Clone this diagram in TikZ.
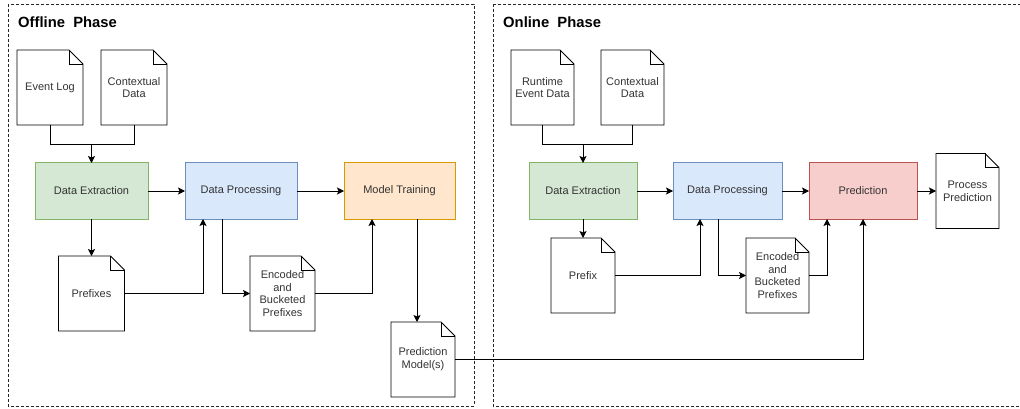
\documentclass[tikz,border=0pt]{standalone}
\usepackage{fontspec}
\setmainfont{Liberation Sans}
\usetikzlibrary{arrows.meta}
\definecolor{txt}{HTML}{333333}
\definecolor{gfill}{HTML}{D5E8D4}\definecolor{gline}{HTML}{82B366}
\definecolor{bfill}{HTML}{DAE8FC}\definecolor{bline}{HTML}{6C8EBF}
\definecolor{ofill}{HTML}{FFE6CC}\definecolor{oline}{HTML}{D79B00}
\definecolor{rfill}{HTML}{F8CECC}\definecolor{rline}{HTML}{B85450}
\tikzset{
  lbl/.style={font=\fontsize{11}{12.7}\selectfont, text=txt, align=center},
  procbox/.style={lbl, rectangle, draw, line width=1pt, inner sep=0pt, outer sep=0pt, minimum height=56pt},
  docnode/.style={lbl, rectangle, inner sep=0pt, outer sep=0pt, minimum width=64pt, minimum height=75pt},
  docline/.style={draw=black, line width=0.9pt, line join=miter},
  conn/.style={draw=black, line width=0.9pt},
  arr/.style={conn, -{Stealth[length=7pt,width=7pt,inset=1.5pt]}},
  frame/.style={draw=black!85, line width=0.8pt, dash pattern=on 3pt off 2pt},
  phasetitle/.style={font=\fontsize{14.8}{16}\selectfont\bfseries, text=black, anchor=west, inner sep=0pt}
}
\newcommand{\docshape}[1]{%
  \draw[docline] (#1.north west) -- ([xshift=-14pt]#1.north east) -- ([yshift=-14pt]#1.north east) -- (#1.south east) -- (#1.south west) -- cycle;
  \draw[docline] ([xshift=-14pt]#1.north east) |- ([yshift=-14pt]#1.north east);}
\begin{document}
\begin{tikzpicture}[x=1pt,y=-1pt]
\useasboundingbox (0,0) rectangle (1020,409);
% frames
\draw[frame] (8,4) rectangle (474,406);
\draw[frame] (493,4) rectangle (1030,406);
\node[phasetitle] (t1) at (18,22) {Offline\ \ Phase};
\node[phasetitle] (t2) at (503,22) {Online\ \ Phase};

% ---------- Offline ----------
\node[docnode, minimum width=66pt] (el) at (50,87.5) {Event Log}; \docshape{el}
\node[docnode, minimum width=66pt] (cd) at (134,87.5) {Contextual\\Data}; \docshape{cd}
\node[procbox, fill=gfill, draw=gline, minimum width=113pt] (de) at (91.5,191) {Data Extraction};
\node[procbox, fill=bfill, draw=bline, minimum width=112pt] (dp) at (241,191) {Data Processing};
\node[procbox, fill=ofill, draw=oline, minimum width=111pt] (mt) at (399.5,191) {Model Training};
\node[docnode, minimum width=66pt] (pre) at (91.5,293.5) {Prefixes}; \docshape{pre}
\node[docnode, minimum width=65pt] (enc) at (282.5,293.5) {Encoded\\and\\Bucketed\\Prefixes}; \docshape{enc}
\node[docnode, minimum width=64pt] (pm) at (423,359.5) {Prediction\\Model(s)}; \docshape{pm}

\coordinate (j1) at (91.5,144);
\draw[arr] (el.south) |- (j1) -- (de.north);
\draw[conn] (cd.south) |- (j1);
\draw[arr] (de.east) -- (dp.west);
\draw[arr] (dp.east) -- (mt.west);
\draw[arr] (de.south) -- (pre.north);
\draw[arr] (pre.east) -| ([xshift=18pt]dp.south west);
\draw[arr] ([xshift=37pt]dp.south west) |- (enc.west);
\draw[arr] (enc.east) -| ([xshift=28pt]mt.south west);
\coordinate (mtout) at ([xshift=73pt]mt.south west);
\draw[arr] (mtout) -- (mtout |- pm.north);

% ---------- Online ----------
\node[docnode, minimum width=63pt] (rt) at (542.5,87.5) {Runtime\\Event Data}; \docshape{rt}
\node[docnode, minimum width=63pt] (cd2) at (632.5,87.5) {Contextual\\Data}; \docshape{cd2}
\node[procbox, fill=gfill, draw=gline, minimum width=108pt] (de2) at (583,191) {Data Extraction};
\node[procbox, fill=bfill, draw=bline, minimum width=109pt] (dp2) at (727.5,191) {Data Processing};
\node[procbox, fill=rfill, draw=rline, minimum width=108pt] (pr) at (863,191) {Prediction};
\node[docnode, minimum width=63pt] (pp) at (967.5,191) {Process\\Prediction}; \docshape{pp}
\node[docnode, minimum width=64pt] (pfx) at (583,275.5) {Prefix}; \docshape{pfx}
\node[docnode, minimum width=63pt] (enc2) at (777.5,275.5) {Encoded\\and\\Bucketed\\Prefixes}; \docshape{enc2}

\coordinate (j2) at (583,144);
\draw[arr] (rt.south) |- (j2) -- (de2.north);
\draw[conn] (cd2.south) |- (j2);
\draw[arr] (de2.east) -- (dp2.west);
\draw[arr] (dp2.east) -- (pr.west);
\draw[arr] (pr.east) -- (pp.west);
\draw[arr] (de2.south) -- (pfx.north);
\draw[arr] (pfx.east) -| ([xshift=27pt]dp2.south west);
\draw[arr] ([xshift=45pt]dp2.south west) |- (enc2.west);
\draw[arr] (enc2.east) -| ([xshift=18pt]pr.south west);
\draw[arr] (pm.east) -| (pr.south);
\end{tikzpicture}
\end{document}
